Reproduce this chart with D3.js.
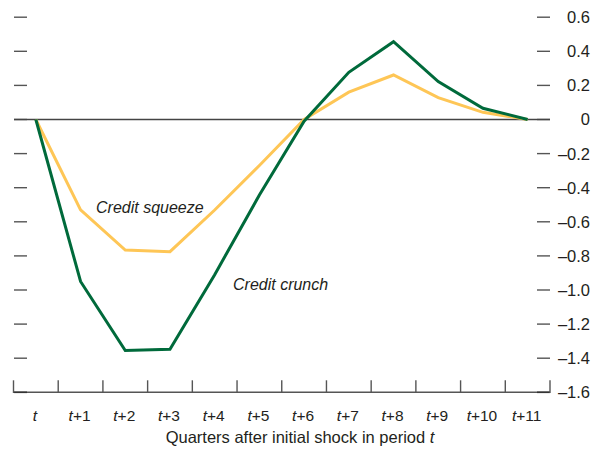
<!DOCTYPE html>
<html><head><meta charset="utf-8">
<script src="https://cdn.jsdelivr.net/npm/d3@7/dist/d3.min.js"></script>
<style>
body{margin:0;background:#fff;}
svg{display:block;font-family:"Liberation Sans",Arial,sans-serif;}
</style></head>
<body>
<script>
const categories = ["", "+1", "+2", "+3", "+4", "+5", "+6", "+7", "+8", "+9", "+10", "+11"];
const creditCrunch = [0, -0.95, -1.355, -1.348, -0.91, -0.443, -0.01, 0.277, 0.456, 0.222, 0.066, 0];
const creditSqueeze = [0, -0.53, -0.766, -0.775, -0.531, -0.27, 0, 0.16, 0.261, 0.128, 0.042, 0];
const yTicks = [0.6, 0.4, 0.2, 0, -0.2, -0.4, -0.6, -0.8, -1.0, -1.2, -1.4, -1.6];
const yTickLabels = ["0.6", "0.4", "0.2", "0", "–0.2", "–0.4", "–0.6", "–0.8", "–1.0", "–1.2", "–1.4", "–1.6"];

const W = 594, H = 455;
const svg = d3.select("body").append("svg").attr("width", W).attr("height", H);

const x = d3.scaleBand().domain(d3.range(categories.length)).range([13.5, 550]);
const y = d3.scaleLinear().domain([-1.6, 0]).range([392.3, 119.5]);
const cx = i => x(i) + x.bandwidth() / 2;

const tickColor = "#555";
// left ticks
svg.append("g").selectAll("line").data(yTicks.slice(0, -1)).join("line")
  .attr("x1", 14).attr("x2", 27).attr("y1", d => y(d)).attr("y2", d => y(d))
  .attr("stroke", tickColor).attr("stroke-width", 1.4);
// right ticks
svg.append("g").selectAll("line").data(yTicks.slice(0, -1)).join("line")
  .attr("x1", 537).attr("x2", 550).attr("y1", d => y(d)).attr("y2", d => y(d))
  .attr("stroke", tickColor).attr("stroke-width", 1.4);
// right tick labels
svg.append("g").selectAll("text").data(yTicks).join("text")
  .attr("x", 590).attr("y", d => y(d)).attr("dy", "0.36em")
  .attr("text-anchor", "end").attr("font-size", 16.5).attr("fill", "#231f20")
  .text((d, i) => yTickLabels[i]);

// bottom axis
const axisY = y(-1.6);
svg.append("line").attr("x1", 13.5).attr("x2", 550).attr("y1", axisY).attr("y2", axisY)
  .attr("stroke", tickColor).attr("stroke-width", 1.4);
svg.append("line").attr("x1", 14).attr("x2", 27).attr("y1", axisY).attr("y2", axisY)
  .attr("stroke", "#333").attr("stroke-width", 1.6);
svg.append("line").attr("x1", 537).attr("x2", 550).attr("y1", axisY).attr("y2", axisY)
  .attr("stroke", "#333").attr("stroke-width", 1.6);
const bounds = d3.range(categories.length + 1).map(i => i < categories.length ? x(i) : x(categories.length - 1) + x.bandwidth());
svg.append("g").selectAll("line").data(bounds).join("line")
  .attr("x1", d => d).attr("x2", d => d).attr("y1", axisY - 12).attr("y2", axisY + 0.7)
  .attr("stroke", tickColor).attr("stroke-width", 1.4);
const xl = svg.append("g").selectAll("text").data(categories).join("text")
  .attr("x", (d, i) => cx(i) - 1).attr("y", 421.3).attr("text-anchor", "middle")
  .attr("font-size", 15.5).attr("fill", "#231f20");
xl.append("tspan").attr("font-style", "italic").text("t");
xl.append("tspan").text(d => d);

const title = svg.append("text").attr("x", 300).attr("y", 443).attr("text-anchor", "middle")
  .attr("font-size", 16.5).attr("fill", "#231f20");
title.append("tspan").text("Quarters after initial shock in period ");
title.append("tspan").attr("font-style", "italic").text("t");

// zero line
svg.append("line").attr("x1", 14).attr("x2", 550).attr("y1", y(0)).attr("y2", y(0))
  .attr("stroke", "#444").attr("stroke-width", 1.5);

const line = d3.line().x((d, i) => cx(i)).y(d => y(d));
svg.append("path").datum(creditSqueeze).attr("d", line).attr("fill", "none")
  .attr("stroke", "#fec656").attr("stroke-width", 3).attr("stroke-linejoin", "miter");
svg.append("path").datum(creditCrunch).attr("d", line).attr("fill", "none")
  .attr("stroke", "#006a3b").attr("stroke-width", 3).attr("stroke-linejoin", "miter");

svg.append("text").attr("x", 96).attr("y", 212.5).attr("font-size", 16).attr("font-style", "italic")
  .attr("fill", "#231f20").text("Credit squeeze");
svg.append("text").attr("x", 233).attr("y", 290).attr("font-size", 16).attr("font-style", "italic")
  .attr("fill", "#231f20").text("Credit crunch");
</script>
</body></html>
